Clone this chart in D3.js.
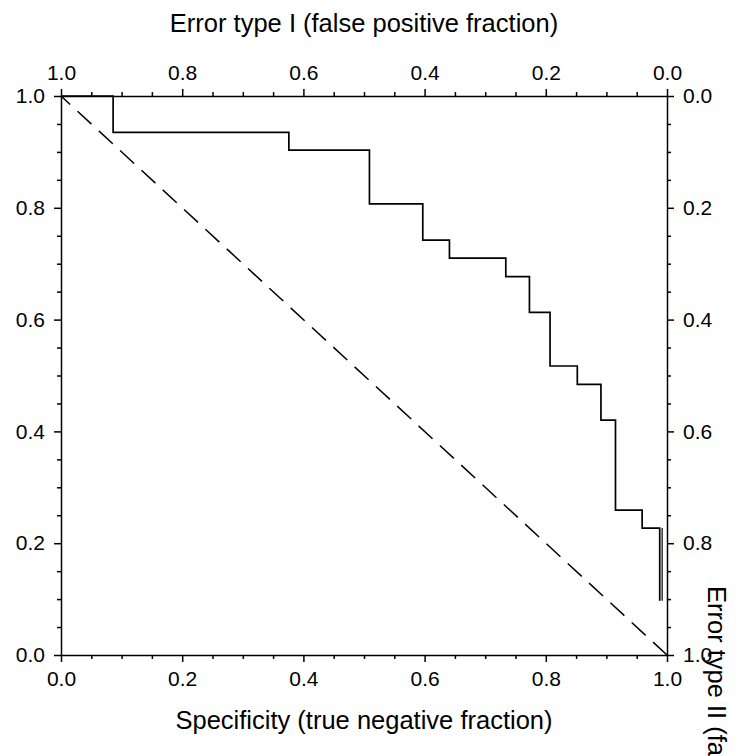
<!DOCTYPE html>
<html>
<head>
<meta charset="utf-8">
<script src="https://cdn.jsdelivr.net/npm/d3@7"></script>
<style>
  body { margin: 0; background: #fff; }
  svg { display: block; font-family: "Liberation Sans", Arial, sans-serif; }
  .axis path, .axis line { stroke: #000; stroke-width: 1.5; }
  .axis text { font-size: 21px; fill: #000; }
  .title { font-size: 25.5px; fill: #000; }
</style>
</head>
<body>
<div id="chart"></div>
<script>
// ROC curve
const specificity = [0, 0.086, 0.376, 0.509, 0.597, 0.641, 0.734, 0.773, 0.807, 0.852, 0.891, 0.915, 0.959, 0.988];
const sensitivity = [1.0, 0.935, 0.903, 0.807, 0.742, 0.710, 0.677, 0.613, 0.517, 0.484, 0.420, 0.259, 0.227, 0.097];
const tailSpecificity = 0.992;
const tailSensitivity = [0.227, 0.097];

const majorTicks = [0, 0.2, 0.4, 0.6, 0.8, 1.0];
const minorTicks = d3.range(0, 21).map((i) => i / 20).filter((v) => Math.round(v * 100) % 20 !== 0);

const bottomTitle = "Specificity (true negative fraction)";
const topTitle = "Error type I (false positive fraction)";
const rightTitle = "Error type II (false negative fraction)";

const width = 736;
const height = 756;
const margin = { top: 96, right: 69, bottom: 101, left: 61 };
const innerW = width - margin.left - margin.right;
const innerH = height - margin.top - margin.bottom;

const svg = d3.select("#chart")
  .append("svg")
  .attr("width", width)
  .attr("height", height);

const g = svg.append("g").attr("transform", `translate(${margin.left},${margin.top})`);

const x = d3.scaleLinear().domain([0, 1]).range([0, innerW]);
const y = d3.scaleLinear().domain([0, 1]).range([innerH, 0]);
const xTop = d3.scaleLinear().domain([1, 0]).range([0, innerW]);
const yRight = d3.scaleLinear().domain([0, 1]).range([0, innerH]);

const fmt = d3.format(".1f");

function drawAxis(axisFn, scale, transform, major) {
  // minor ticks, no labels
  g.append("g")
    .attr("class", "axis")
    .attr("transform", transform)
    .call(axisFn(scale).tickValues(minorTicks).tickSize(4).tickFormat(""))
    .call((s) => s.select(".domain").remove());
  // major ticks with labels
  return g.append("g")
    .attr("class", "axis")
    .attr("transform", transform)
    .call(axisFn(scale).tickValues(major).tickSize(7).tickSizeOuter(0).tickPadding(9).tickFormat(fmt));
}

drawAxis(d3.axisBottom, x, `translate(0,${innerH})`, majorTicks);
drawAxis(d3.axisTop, xTop, "translate(0,0)", majorTicks);
drawAxis(d3.axisLeft, y, "translate(0,0)", majorTicks);
drawAxis(d3.axisRight, yRight, `translate(${innerW},0)`, majorTicks);

// diagonal reference line
g.append("line")
  .attr("x1", x(1)).attr("y1", y(0))
  .attr("x2", x(0)).attr("y2", y(1))
  .attr("stroke", "#000")
  .attr("stroke-width", 1.5)
  .attr("stroke-dasharray", "19,10");

// step curve
const points = specificity.map((s, i) => [s, sensitivity[i]]);
const line = d3.line()
  .x((d) => x(d[0]))
  .y((d) => y(d[1]))
  .curve(d3.curveStepAfter);

g.append("path")
  .datum(points)
  .attr("d", line)
  .attr("fill", "none")
  .attr("stroke", "#000")
  .attr("stroke-width", 1.7);

g.append("line")
  .attr("x1", x(tailSpecificity)).attr("y1", y(tailSensitivity[0]))
  .attr("x2", x(tailSpecificity)).attr("y2", y(tailSensitivity[1]))
  .attr("stroke", "#000")
  .attr("stroke-width", 1.2);

// titles
svg.append("text")
  .attr("class", "title")
  .attr("x", margin.left + innerW / 2)
  .attr("y", 32)
  .attr("text-anchor", "middle")
  .text(topTitle);

svg.append("text")
  .attr("class", "title")
  .attr("x", margin.left + innerW / 2)
  .attr("y", 729)
  .attr("text-anchor", "middle")
  .text(bottomTitle);

svg.append("text")
  .attr("class", "title")
  .attr("transform", `translate(708,586) rotate(90)`)
  .attr("text-anchor", "start")
  .text(rightTitle);
</script>
</body>
</html>
